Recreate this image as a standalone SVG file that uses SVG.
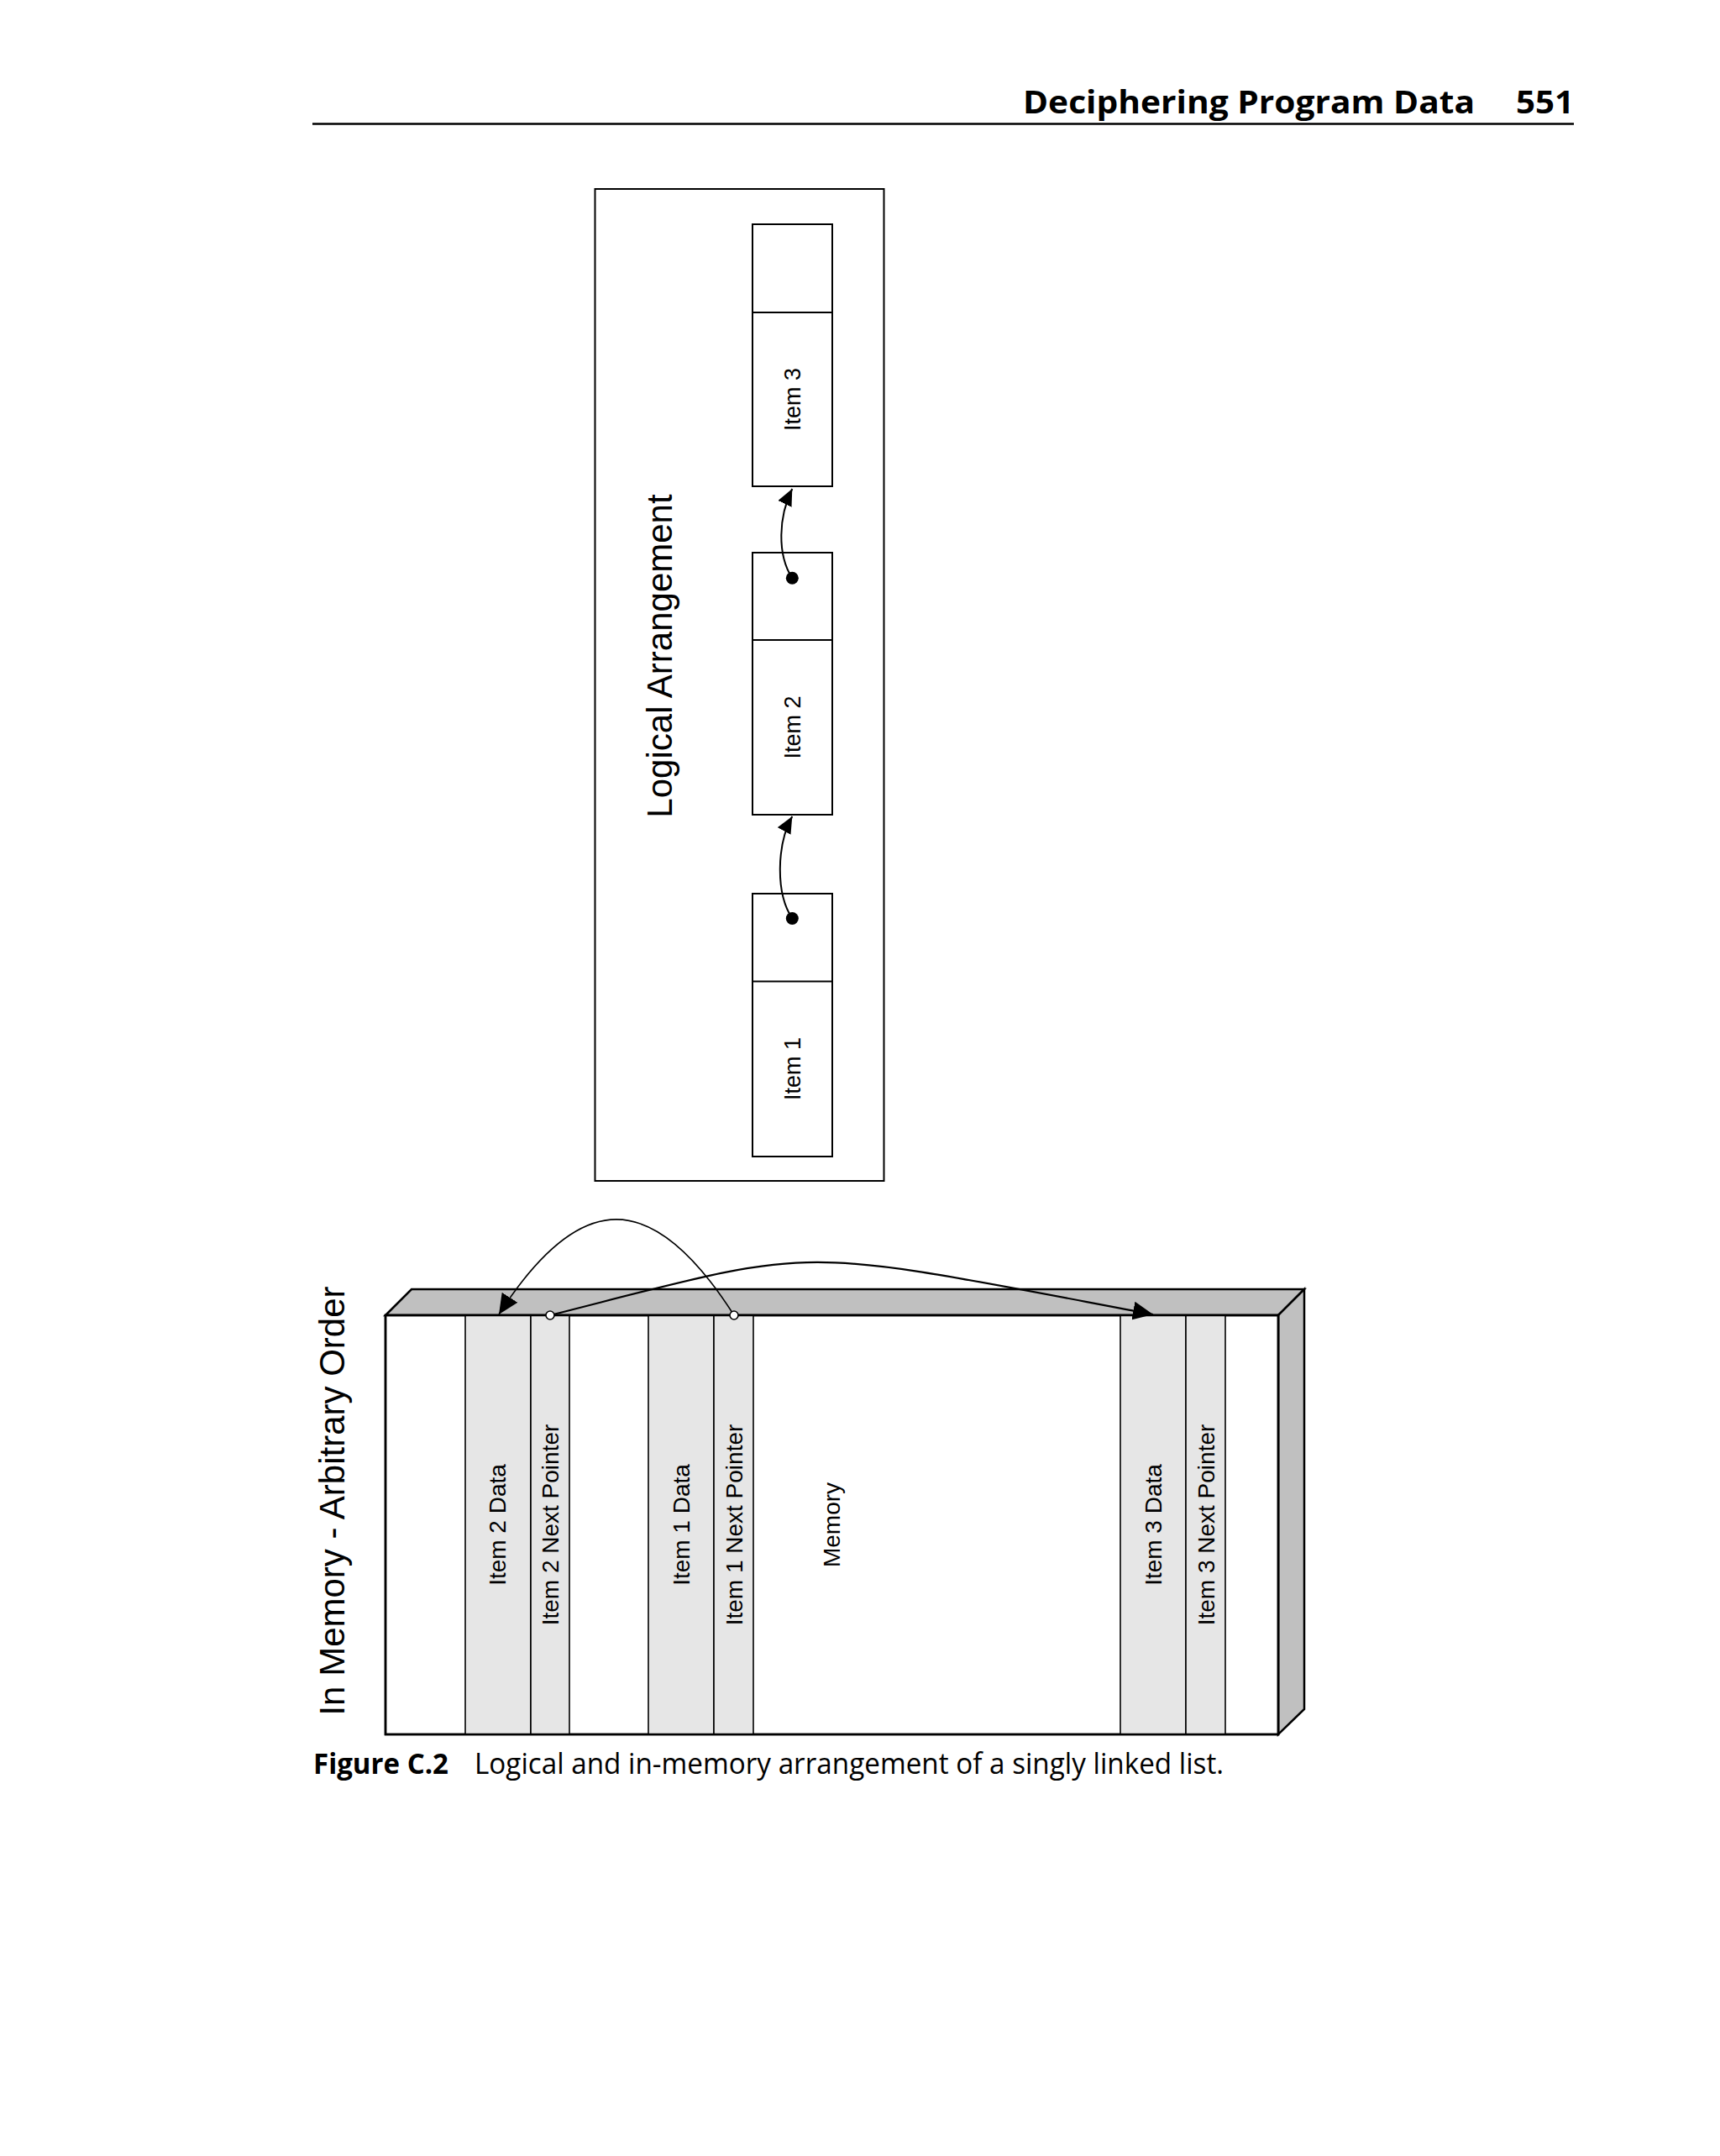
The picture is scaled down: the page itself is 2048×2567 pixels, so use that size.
<svg xmlns="http://www.w3.org/2000/svg" width="2048" height="2567" viewBox="0 0 2048 2567">
<defs>
<style>
.lbl{font-family:"Liberation Sans",Arial,Helvetica,sans-serif;fill:#000;}
.box{fill:#fff;stroke:#000;stroke-width:2;}
.face{fill:#c0c0c0;stroke:#000;stroke-width:2.5;stroke-linejoin:miter;}
.col{fill:#e6e6e6;stroke:#000;stroke-width:1.6;}
.conn{fill:none;stroke:#000;}
.hdr{font-family:"Open Sans","Noto Sans",sans-serif;fill:#000;}
</style>
<marker id="ahS" markerUnits="userSpaceOnUse" markerWidth="22" markerHeight="18" refX="20" refY="9" orient="auto" viewBox="0 0 22 18">
<path d="M0,0 L20,9 L0,18 z" fill="#000"/>
</marker>
<marker id="ahL" markerUnits="userSpaceOnUse" markerWidth="26" markerHeight="22" refX="24" refY="11" orient="auto" viewBox="0 0 26 22">
<path d="M0,0 L24,11 L0,22 z" fill="#000"/>
</marker>
</defs>
<rect width="2048" height="2567" fill="#fff"/>

<g id="header">
<text class="hdr" x="1218" y="135" font-size="38" font-weight="700" textLength="538" lengthAdjust="spacingAndGlyphs">Deciphering Program Data</text>
<text class="hdr" x="1805" y="135" font-size="38" font-weight="700" textLength="69" lengthAdjust="spacingAndGlyphs">551</text>
<line x1="372" y1="147.5" x2="1874" y2="147.5" stroke="#000" stroke-width="2.5"/>
</g>

<g id="logical-arrangement">
<rect class="box" x="708.5" y="225" width="344" height="1181"/>
<text class="lbl" font-size="42" transform="translate(800,781) rotate(-90)" text-anchor="middle">Logical Arrangement</text>
</g>

<g id="item3">
<rect class="box" x="896" y="267" width="95" height="312"/>
<line x1="896" y1="372" x2="991" y2="372" stroke="#000" stroke-width="2"/>
<text class="lbl" font-size="27" transform="translate(953,475.5) rotate(-90)" text-anchor="middle">Item 3</text>
</g>

<g id="item2">
<rect class="box" x="896" y="658" width="95" height="312"/>
<line x1="896" y1="762" x2="991" y2="762" stroke="#000" stroke-width="2"/>
<text class="lbl" font-size="27" transform="translate(953,866) rotate(-90)" text-anchor="middle">Item 2</text>
<circle cx="943.3" cy="688.3" r="7.5" fill="#000"/>
</g>

<g id="item1">
<rect class="box" x="896" y="1064" width="95" height="313"/>
<line x1="896" y1="1168.5" x2="991" y2="1168.5" stroke="#000" stroke-width="2"/>
<text class="lbl" font-size="27" transform="translate(953,1272.5) rotate(-90)" text-anchor="middle">Item 1</text>
<circle cx="943.3" cy="1093.5" r="7.5" fill="#000"/>
</g>

<g id="memory-title">
<text class="lbl" font-size="42" transform="translate(410,1787) rotate(-90)" text-anchor="middle">In Memory - Arbitrary Order</text>
</g>

<g id="memory-block">
<polygon class="face" points="459,1566 490,1535 1553,1535 1522,1566"/>
<polygon class="face" points="1522,1566 1553,1535 1553,2035 1522,2065"/>
<rect x="459" y="1566" width="1063" height="499" fill="#fff" stroke="#000" stroke-width="2.5"/>
</g>

<g id="item2-data">
<rect class="col" x="554" y="1566" width="78" height="499"/>
<text class="lbl" font-size="28" transform="translate(602,1815.5) rotate(-90)" text-anchor="middle">Item 2 Data</text>
</g>
<g id="item2-next-pointer">
<rect class="col" x="632" y="1566" width="46" height="499"/>
<text class="lbl" font-size="28" transform="translate(665,1815.5) rotate(-90)" text-anchor="middle">Item 2 Next Pointer</text>
</g>
<g id="item1-data">
<rect class="col" x="772" y="1566" width="78" height="499"/>
<text class="lbl" font-size="28" transform="translate(821,1815.5) rotate(-90)" text-anchor="middle">Item 1 Data</text>
</g>
<g id="item1-next-pointer">
<rect class="col" x="850" y="1566" width="47" height="499"/>
<text class="lbl" font-size="28" transform="translate(884,1815.5) rotate(-90)" text-anchor="middle">Item 1 Next Pointer</text>
</g>
<g id="memory-label">
<text class="lbl" font-size="28" transform="translate(1000,1815.5) rotate(-90)" text-anchor="middle">Memory</text>
</g>
<g id="item3-data">
<rect class="col" x="1334" y="1566" width="78" height="499"/>
<text class="lbl" font-size="28" transform="translate(1383,1815.5) rotate(-90)" text-anchor="middle">Item 3 Data</text>
</g>
<g id="item3-next-pointer">
<rect class="col" x="1412" y="1566" width="47" height="499"/>
<text class="lbl" font-size="28" transform="translate(1446,1815.5) rotate(-90)" text-anchor="middle">Item 3 Next Pointer</text>
</g>
<g id="memory-front-outline">
<rect x="459" y="1566" width="1063" height="499" fill="none" stroke="#000" stroke-width="2.5"/>
</g>

<g id="connectors">
<path class="conn" stroke-width="2" d="M943.3,688.3 C925,660 927,615 943.3,582" marker-end="url(#ahS)"/>
<path class="conn" stroke-width="2" d="M943.3,1093.5 C923,1063 925,1005 943.3,972" marker-end="url(#ahS)"/>
<path class="conn" stroke-width="1.6" d="M874,1566 C777,1414 691,1414 594,1565" marker-end="url(#ahL)"/>
<path class="conn" stroke-width="2.2" d="M655,1566 C986,1482 932,1482 1373,1565" marker-end="url(#ahL)"/>
<circle cx="655" cy="1566" r="5" fill="#fff" stroke="#000" stroke-width="1.6"/>
<circle cx="874" cy="1566" r="5" fill="#fff" stroke="#000" stroke-width="1.6"/>
</g>

<g id="caption">
<text class="hdr" x="373" y="2112" font-size="34" font-weight="700" textLength="161" lengthAdjust="spacingAndGlyphs">Figure C.2</text>
<text class="hdr" x="565" y="2112" font-size="34" textLength="892" lengthAdjust="spacingAndGlyphs">Logical and in-memory arrangement of a singly linked list.</text>
</g>
</svg>
